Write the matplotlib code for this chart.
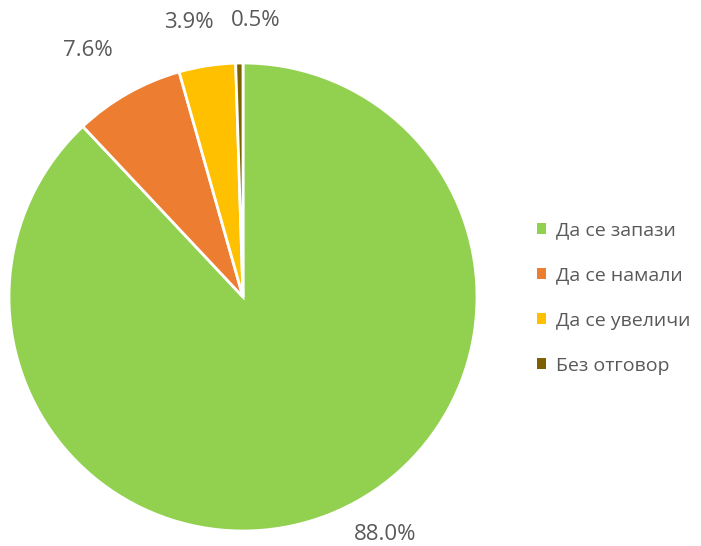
import matplotlib
matplotlib.use("Agg")
import matplotlib.pyplot as plt
from matplotlib.patches import Patch

categories = ["Да се запази", "Да се намали", "Да се увеличи", "Без отговор"]
values = [88.0, 7.6, 3.9, 0.5]
colors = ["#92D050", "#ED7D31", "#FFC000", "#7F6000"]
labels = ["88.0%", "7.6%", "3.9%", "0.5%"]
# label positions (pixel, from top-left) chosen to match reference
label_px = [(385, 535), (88, 50), (189, 22), (256, 20)]

W, H = 701, 546
fig = plt.figure(figsize=(W / 100, H / 100), dpi=100)
plt.rcParams['font.family'] = ['Open Sans', 'DejaVu Sans']

cx, cy, r = 243, 297, 234
ax = fig.add_axes([(cx - r) / W, (H - cy - r) / H, 2 * r / W, 2 * r / H])
ax.pie(values, colors=colors, startangle=90, counterclock=False, radius=1,
       wedgeprops=dict(edgecolor="white", linewidth=2))
ax.set_xlim(-1, 1)
ax.set_ylim(-1, 1)
ax.set_aspect("equal")
ax.axis("off")

txt_color = "#595959"
for lab, (px, py) in zip(labels, label_px):
    fig.text(px / W, 1 - py / H, lab, ha="center", va="center",
             fontsize=16, color=txt_color)

handles = [Patch(facecolor=c, edgecolor="none") for c in colors]
leg = fig.legend(handles, categories, loc="center left",
                 bbox_to_anchor=(519 / W, 1 - 298 / H), frameon=False,
                 fontsize=14, labelcolor=txt_color, handlelength=0.5,
                 handleheight=0.5, handletextpad=0.5, labelspacing=1.4)

fig.savefig("out.png", dpi=100)
